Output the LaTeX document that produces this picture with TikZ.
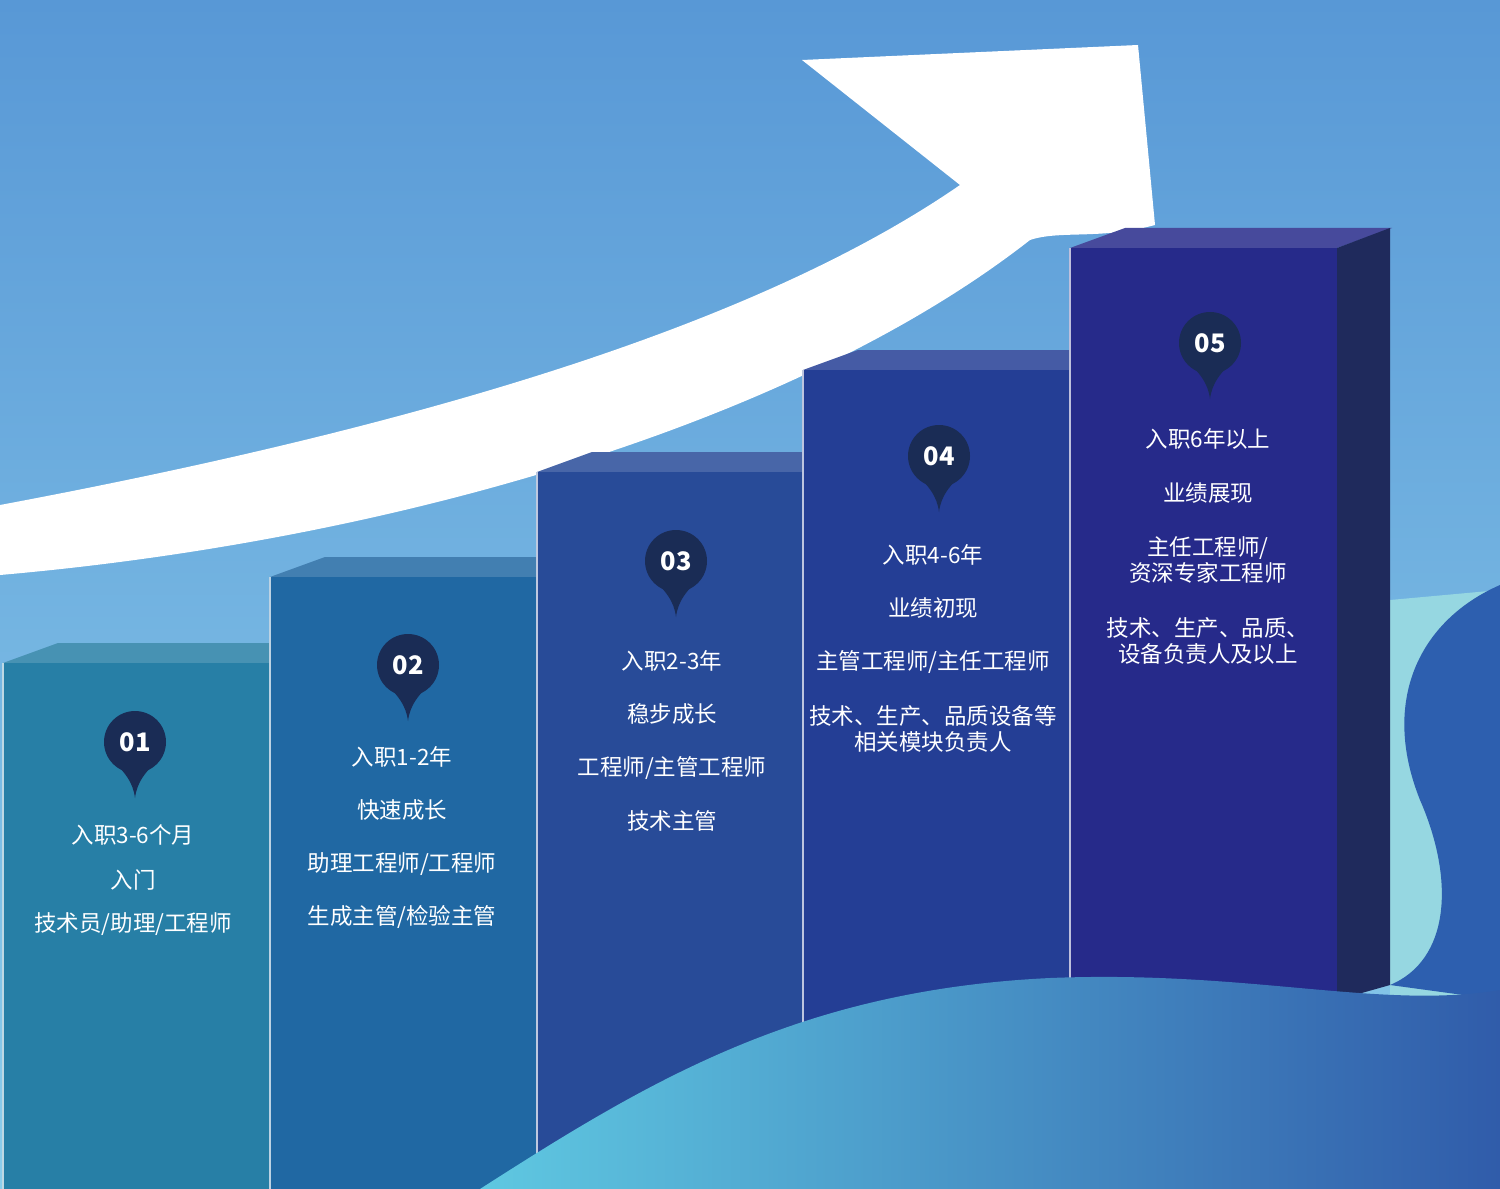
\documentclass[tikz,border=0pt]{standalone}
\usepackage{fontspec}
\newfontfamily\cjk{Noto Sans CJK SC}
\begin{document}
\begin{tikzpicture}[x=0.02cm,y=-0.02cm,
  lbl/.style={text=white,font=\cjk\fontsize{12.8}{14.6}\selectfont,align=center},
  num/.style={text=white,font=\cjk\bfseries\fontsize{14.5}{16}\selectfont}]
\definecolor{c1}{HTML}{277FA6}\definecolor{c2}{HTML}{2068A3}\definecolor{c3}{HTML}{284B98}
\definecolor{c4}{HTML}{243E95}\definecolor{c5}{HTML}{262A8A}\definecolor{sd}{HTML}{1F2A5C}
\definecolor{pn}{HTML}{1A2C55}
\definecolor{bgt}{RGB}{88,152,214}\definecolor{bgb}{RGB}{140,205,235}
\definecolor{rcy}{RGB}{150,215,225}\definecolor{rdb}{RGB}{45,95,175}
\definecolor{wl}{RGB}{95,200,225}\definecolor{wr}{RGB}{48,92,170}
\useasboundingbox (0,0) rectangle (1500,1189);
\shade[top color=bgt,bottom color=bgb] (0,0) rectangle (1500,1189);
% right background waves
\fill[rcy] (1390,600) -- (1500,590) -- (1500,1000) -- (1390,1000) -- cycle;
\fill[rdb] (1500,585) .. controls (1420,620) and (1380,700) .. (1420,800) .. controls (1455,880) and (1450,960) .. (1390,985) -- (1500,1000) -- cycle;
% white arrow
\fill[white] (0,505) .. controls (400,430) and (750,330) .. (960,185) -- (802,60) -- (1138,45) -- (1155,225) .. controls (1100,240) and (1060,230) .. (1030,240) .. controls (800,420) and (400,540) .. (0,575) -- cycle;
% columns
\foreach \xa/\xb/\yt/\c in {3/270/663/c1,270/537/577/c2,537/803/472/c3,803/1070/370/c4,1070/1337/248/c5}{
  \fill[\c!85!white] (\xa,\yt) -- (\xa+55,\yt-20) -- (\xb+55,\yt-20) -- (\xb,\yt) -- cycle;
  \fill[\c] (\xa,\yt) rectangle (\xb,1189);
  \draw[white!70!\c,line width=0.6pt] (\xa,\yt) -- (\xa,1189);
}
\fill[sd] (1337,248) -- (1390,228) -- (1390,985) -- (1337,1000) -- cycle;
% foreground wave
\shade[left color=wl,right color=wr] (480,1189) .. controls (650,1080) and (800,990) .. (1050,978) .. controls (1250,970) and (1380,1010) .. (1500,990) -- (1500,1189) -- cycle;
% pins
\foreach \x/\y/\t in {135/742/01,408/665/02,676/561/03,939/456/04,1210/343/05}{
  \fill[pn] (\x-27,\y+14) .. controls (\x-10,\y+30) and (\x-2,\y+40) .. (\x,\y+56) .. controls (\x+2,\y+40) and (\x+10,\y+30) .. (\x+27,\y+14) -- cycle;
  \fill[pn] (\x,\y) circle (31);
  \node[num] (n\t) at (\x,\y) {\t};
}
\node[lbl] (a1) at (133,835) {入职3-6个月};
\node[lbl] (a2) at (133,880) {入门};
\node[lbl] (a3) at (133,924) {技术员/助理/工程师};
\node[lbl] (b1) at (402,757) {入职1-2年};
\node[lbl] (b2) at (402,810) {快速成长};
\node[lbl] (b3) at (402,864) {助理工程师/工程师};
\node[lbl] (b4) at (402,917) {生成主管/检验主管};
\node[lbl] (c1n) at (672,661) {入职2-3年};
\node[lbl] (c2n) at (672,714) {稳步成长};
\node[lbl] (c3n) at (672,768) {工程师/主管工程师};
\node[lbl] (c4n) at (672,821) {技术主管};
\node[lbl] (d1) at (933,555) {入职4-6年};
\node[lbl] (d2) at (933,608) {业绩初现};
\node[lbl] (d3) at (933,662) {主管工程师/主任工程师};
\node[lbl] (d4) at (933,729) {技术、生产、品质设备等\\相关模块负责人};
\node[lbl] (e1) at (1208,439) {入职6年以上};
\node[lbl] (e2) at (1208,493) {业绩展现};
\node[lbl] (e3) at (1208,560) {主任工程师/\\资深专家工程师};
\node[lbl] (e4) at (1208,641) {技术、生产、品质、\\设备负责人及以上};
\end{tikzpicture}
\end{document}
